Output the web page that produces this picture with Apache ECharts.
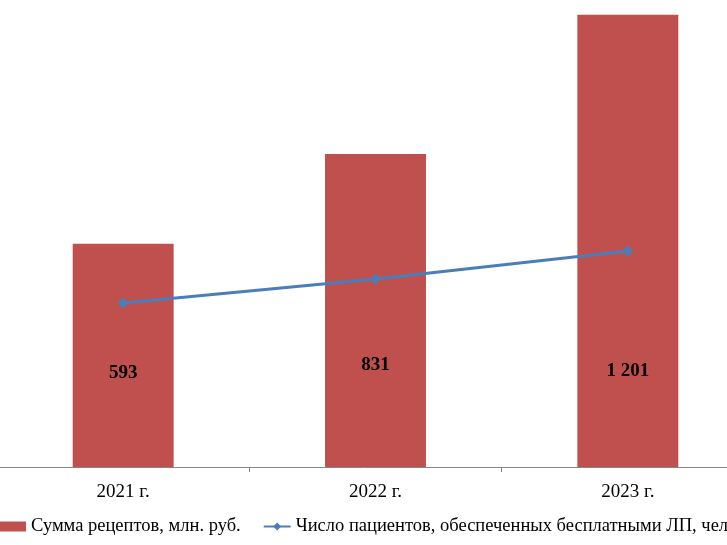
<!DOCTYPE html>
<html>
<head>
<meta charset="utf-8">
<script src="https://cdn.jsdelivr.net/npm/echarts@6/dist/echarts.min.js"></script>
<style>html,body{margin:0;padding:0;background:#fff}#c{width:727px;height:545px}</style>
</head>
<body>
<div id="c"></div>
<script>
const categories = ['2021 г.', '2022 г.', '2023 г.'];
const sumValues = [593, 831, 1201];
const sumLabels = ['593', '831', '1 201'];
const patients = [7020, 8050, 9250];
const seriesNames = ['Сумма рецептов, млн. руб.', 'Число пациентов, обеспеченных бесплатными ЛП, чел.'];

const labelDist = [84, 92, 86];
const chart = echarts.init(document.getElementById('c'), null, {renderer: 'canvas'});
const font = '"Liberation Serif", "Times New Roman", serif';
chart.setOption({
  animation: false,
  textStyle: {fontFamily: font},
  grid: {left: -3, width: 757, top: 0, height: 467, containLabel: false, outerBoundsMode: 'none'},
  legend: {
    left: -1, top: 517, padding: 0, width: 1500,
    itemWidth: 27, itemHeight: 10, itemGap: 22,
    textStyle: {fontFamily: font, fontSize: 18.5, color: '#000'},
    data: [
      {name: seriesNames[0], icon: 'rect'},
      {name: seriesNames[1]}
    ]
  },
  xAxis: {
    type: 'category', data: categories,
    axisLine: {lineStyle: {color: '#868686', width: 1}},
    axisTick: {show: true, length: 5, lineStyle: {color: '#868686'}},
    axisLabel: {fontFamily: font, fontSize: 19, color: '#000', margin: 16}
  },
  yAxis: [
    {type: 'value', min: 0, max: 1240, show: false, splitLine: {show: false}},
    {type: 'value', min: 0, max: 20000, show: false, splitLine: {show: false}}
  ],
  series: [
    {
      name: seriesNames[0], type: 'bar', barCategoryGap: '60%',
      itemStyle: {color: '#C0504D'},
      data: sumValues.map((v, i) => ({
        value: v,
        label: {
          show: true, position: 'insideBottom', distance: labelDist[i],
          formatter: sumLabels[i],
          fontFamily: font, fontSize: 19, fontWeight: 'bold', color: '#000'
        }
      }))
    },
    {
      name: seriesNames[1], type: 'line', yAxisIndex: 1,
      symbol: 'diamond', symbolSize: 11,
      lineStyle: {color: '#4A7EBB', width: 3},
      itemStyle: {color: '#4A7EBB'},
      data: patients
    }
  ]
});
</script>
</body>
</html>
